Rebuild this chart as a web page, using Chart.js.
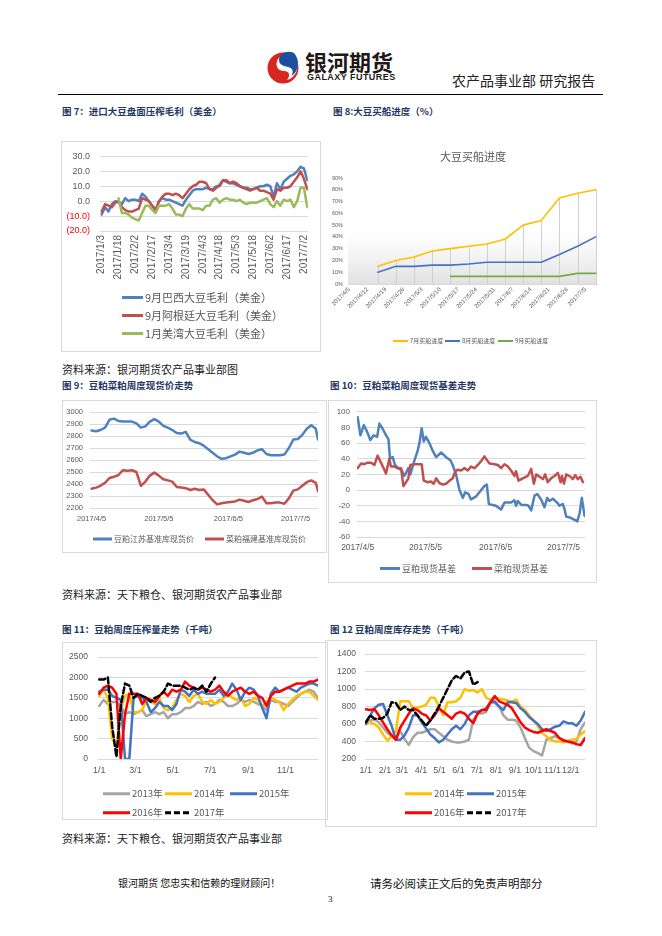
<!DOCTYPE html>
<html><head><meta charset="utf-8">
<script src="https://cdn.jsdelivr.net/npm/chart.js@4.4.1/dist/chart.umd.min.js"></script>
<style>
html,body{margin:0;padding:0;background:#fff;}
body{width:662px;height:936px;position:relative;overflow:hidden;font-family:"Noto Sans CJK SC","Liberation Sans",sans-serif;}
.abs{position:absolute;white-space:nowrap;line-height:1;}
.title{font-size:9.5px;font-weight:700;color:#1f3864;}
.src{font-size:11px;color:#222;}
.box{position:absolute;border:1px solid #d9d9d9;box-sizing:border-box;}
canvas{position:absolute;}
.leg{position:absolute;white-space:nowrap;line-height:1;color:#595959;}
.leg svg{position:absolute;left:0;}
</style></head><body>

<svg class="abs" style="left:267px;top:49px" width="34" height="36" viewBox="0 0 34 36">
  <circle cx="16" cy="19" r="15.5" fill="#d7261e"/>
  <path d="M29 9 C24 3 13 4 10 12 C8 18 12 22 17 22 C22 22 24 26 20 31 C28 29 33 20 29 9 Z" fill="#fff"/>
  <path d="M27 4 C21 1 12 4 12 11 C12 16 17 17 21 18 C26 19 27 23 24 27 C31 24 34 12 27 4 Z" fill="#1d4f9f"/>
</svg>
<div class="abs" style="left:305px;top:50px;font-size:22px;font-weight:700;color:#231815;">银河期货</div>
<div class="abs" style="left:307px;top:72.5px;font-size:9px;font-weight:700;color:#231815;font-family:'Liberation Sans',sans-serif;letter-spacing:0.45px;">GALAXY FUTURES</div>
<div class="abs" style="left:452px;top:73px;font-size:14px;color:#222;">农产品事业部 研究报告</div>
<div class="abs" style="left:58px;top:94px;width:545px;height:1px;background:#000;"></div>

<div class="abs title" style="left:62px;top:107px;">图 7：进口大豆盘面压榨毛利（美金）</div>
<div class="abs title" style="left:333px;top:107px;">图 8:大豆买船进度（%）</div>
<div class="abs src" style="left:62px;top:363.5px;">资料来源：银河期货农产品事业部图</div>
<div class="abs title" style="left:62px;top:381px;">图 9：豆粕菜粕周度现货价走势</div>
<div class="abs title" style="left:330px;top:381px;">图 10：豆粕菜粕周度现货基差走势</div>
<div class="abs src" style="left:62px;top:588.5px;">资料来源：天下粮仓、银河期货农产品事业部</div>
<div class="abs title" style="left:62px;top:625px;">图 11：豆粕周度压榨量走势（千吨）</div>
<div class="abs title" style="left:330px;top:625px;">图 12 豆粕周度库存走势（千吨）</div>
<div class="abs src" style="left:62px;top:832.5px;">资料来源：天下粮仓、银河期货农产品事业部</div>

<div class="abs" style="left:118px;top:878px;font-size:10px;color:#111;">银河期货 您忠实和信赖的理财顾问！</div>
<div class="abs" style="left:370px;top:877.5px;font-size:11.5px;color:#111;">请务必阅读正文后的免责声明部分</div>
<div class="abs" style="left:328px;top:895px;font-size:9px;color:#111;font-family:'Liberation Serif',serif;">3</div>

<div class="box" style="left:61px;top:141px;width:260px;height:211px;"></div>
<div class="box" style="left:62px;top:400px;width:265px;height:153px;"></div>
<div class="box" style="left:328px;top:400px;width:269px;height:183px;"></div>
<div class="box" style="left:62px;top:642px;width:266px;height:178px;"></div>
<div class="box" style="left:325px;top:640px;width:272px;height:187px;"></div>

<script>
// ---------------- DATA ----------------
// Fig 7: crush margin (USD), every 3 days from 2017/1/3
const c7Days = Array.from({length:62}, (_, i) => i * 3);
const c7TickDays = [0,15,30,45,60,75,90,105,120,135,150,165,180];
const c7TickLabels = ['2017/1/3','2017/1/18','2017/2/2','2017/2/17','2017/3/4','2017/3/19','2017/4/3','2017/4/18','2017/5/3','2017/5/18','2017/6/2','2017/6/17','2017/7/2'];
const c7Names = ['9月巴西大豆毛利（美金）','9月阿根廷大豆毛利（美金）','1月美湾大豆毛利（美金）'];
const brazil = [-9,-4,-7,-2,0,-1,-2,2,0,1,1,0,5,3,0,-3,-6,0,2,1,1,0,-1,-2,-3,1,4,7,8,8,8,9,8,8,10,10,14,13,12,12,11,10,9,9,8,8,9,10,10,11,10,3,12,8,13,15,17,18,20,23,22,14];
const argentina = [-7,-2,-3,-4,-1,0,-4,-6,-7,-7,-6,-5,2,1,0,-3,-6,0,3,5,5,4,5,4,2,5,8,10,11,13,13,12,8,7,9,11,14,14,12,13,12,10,9,8,7,8,9,7,7,6,5,1,8,7,9,9,10,13,16,20,15,8];
const usGulf = [null,null,null,null,null,2,-8,-8,-9,-11,-12,-13,-8,-3,-3,-6,-8,-3,-3,-3,-2,-5,-9,-9,-10,-5,-2,-5,-5,-5,-6,-3,-3,1,2,-1,1,2,1,1,0,1,-1,-2,-1,-1,-1,0,1,2,-2,-4,0,-3,1,0,1,-4,0,9,9,-4];

// Fig 8: shipment purchase progress (%), days from 2017/4/5
const c8Days = [11,18,25,32,39,46,53,60,67,74,81,88,95];
const c8TickDays = [0,7,14,21,28,35,42,49,56,63,70,77,84,91];
const c8TickLabels = ['2017/4/5','2017/4/12','2017/4/19','2017/4/26','2017/5/3','2017/5/10','2017/5/17','2017/5/24','2017/5/31','2017/6/7','2017/6/14','2017/6/21','2017/6/28','2017/7/5'];
const c8Names = ['7月买船进度','8月买船进度','9月买船进度'];
const jul = [15,20,23,28,30,32,34,38,50,54,73,77,80];
const aug = [10,15,15,16,16,17,18.5,18.5,18.5,18.5,25,32,40];
const sep = [null,null,null,null,6.5,6.5,6.5,6.5,6.5,6.5,6.5,9,9];

// Fig 9: spot prices, days from 2017/4/5
const c9Days = [0,2,4,6,8,10,12,14,16,18,20,22,24,26,28,30,32,34,36,38,40,42,44,46,48,50,52,54,56,58,60,62,64,66,68,70,72,74,76,78,80,82,84,86,88,90,92,94,96,98,100,101];
const c9TickDays = [0,30,61,91];
const c9TickLabels = ['2017/4/5','2017/5/5','2017/6/5','2017/7/5'];
const c9Names = ['豆粕江苏基准库现货价','菜粕福建基准库现货价'];
const smPrice = [2845,2840,2850,2870,2935,2945,2925,2920,2920,2920,2905,2870,2880,2920,2940,2920,2885,2870,2850,2825,2820,2835,2770,2750,2740,2720,2690,2660,2630,2610,2615,2630,2645,2670,2660,2650,2660,2680,2690,2650,2640,2640,2640,2645,2700,2770,2775,2810,2860,2890,2860,2770];
const rmPrice = [2360,2370,2385,2410,2450,2460,2475,2515,2510,2515,2500,2385,2420,2470,2495,2470,2440,2430,2420,2375,2370,2365,2350,2360,2350,2355,2310,2265,2230,2240,2245,2250,2255,2270,2260,2250,2265,2275,2295,2240,2240,2245,2245,2235,2280,2345,2355,2385,2415,2430,2410,2340];

// Fig 10: spot basis, days from 2017/4/5
const c10TickDays = [0,30,61,91];
const c10TickLabels = ['2017/4/5','2017/5/5','2017/6/5','2017/7/5'];
const c10Names = ['豆粕现货基差','菜粕现货基差'];
const smBasisDays = [0,1.2,2.7,4.1,5.6,7.1,8.6,9.6,11.1,12.5,13.6,14.3,15.5,16.5,18,19.5,20.6,21.4,22.4,23.3,25.1,26.5,27.3,28.3,29.2,30.2,31.7,33.2,34.7,36.9,39.1,41,42,43.5,45,46.5,47.5,49,50.1,52.4,54.6,56,57.1,58,59.7,61.1,63.4,64.9,67.8,69.3,70,70.8,72.3,74.5,75.5,76.7,78.2,79.4,81.1,82.6,83.8,84.8,86.3,88.5,89.2,90.7,91.5,92.2,93.7,95.9,97.1,98.1,99.1,100.3];
const smBasis = [93,70,83,75,64,70,68,85,78,70,65,40,42,32,28,25,18,22,28,20,38,50,60,79,62,68,60,50,42,48,42,38,32,20,0,-10,-3,-5,-12,-8,0,5,7,-18,-19,-20,-25,-16,-16,-13,-20,-14,-19,-19,-20,-26,-7,-5,-12,-22,-10,-14,-11,-17,-20,-18,-25,-34,-35,-38,-40,-30,-10,-33];
const rmBasisDays = [0,1.5,2.9,4.4,5.9,7.4,8.8,10.3,11.8,12.5,14,14.7,16.2,17.7,19.2,20.2,21.4,22.4,23.3,25.1,27.3,28.3,29.2,31,32.4,33.6,34.7,36.1,37.6,39.1,40.6,42,43.2,44.2,45.7,47.2,48.7,50.1,51.6,53.1,54.6,56,57.2,58.3,60.5,62,63.4,64.9,66.4,67.8,69.3,70,71.1,73,75.2,76.7,77.9,78.9,80.4,81.9,82.9,84,85.5,87,88.5,89.7,90.3,91.2,92.2,94.1,95.1,96.2,97.3,98.5,99.6];
const rmBasis = [28,34,33,35,35,32,44,35,26,21,40,30,30,28,28,5,10,15,32,33,33,33,12,10,11,8,15,9,7,8,12,15,24,26,25,28,25,30,28,32,37,43,38,34,33,32,28,33,30,25,18,24,12,15,18,27,8,20,17,14,20,10,15,18,22,10,18,8,20,17,14,19,14,17,10];

// Fig 11 & 12: weekly, week index from 1/1
const weeks = Array.from({length:52}, (_, i) => i);
const yearNames = ['2013年','2014年','2015年','2016年','2017年'];
const c11TickWeeks = [0,8.43,17.14,25.86,34.71,43.43];
const c11TickLabels = ['1/1','3/1','5/1','7/1','9/1','11/1'];
const crush2013 = [1300,1450,1350,1400,1400,1300,1100,1150,1100,1150,1200,1050,1100,1150,1100,1150,1000,1100,1100,1150,1250,1250,1300,1400,1350,1400,1300,1350,1450,1400,1300,1300,1350,1450,1400,1450,1400,1350,1300,1200,1450,1400,1400,1350,1300,1400,1500,1600,1650,1700,1650,1500];
const crush2014 = [1550,1700,1500,500,300,1200,1550,1600,1150,1150,1200,1450,1400,1350,1500,1250,1200,1250,1450,1600,1550,1400,1550,1600,1400,1350,1450,1350,1400,1500,1600,1500,1450,1500,1300,1350,1500,1450,1300,1400,1500,1450,1400,1200,1350,1450,1550,1600,1650,1650,1550,1450];
const crush2015 = [1650,1700,1700,1550,1500,1450,0,0,1500,1550,1500,1400,1150,1250,1400,1300,1300,1200,1350,1700,1650,1550,1700,1600,1650,1600,1600,1600,1700,1550,1650,1850,1700,1450,1650,1750,1700,1550,1250,1000,1600,1750,1650,1700,1750,1700,1650,1750,1800,1850,1850,1800];
const crush2016 = [1600,1750,1800,1750,1600,0,1100,1600,1600,1600,1350,1500,1450,1400,1550,1650,1550,1700,1650,1700,1900,1800,1750,1700,1750,1700,1650,1700,1800,1650,1550,1650,1700,1750,1650,1600,1650,1550,1500,1300,1550,1650,1650,1700,1750,1800,1850,1850,1850,1900,1900,1950];
const crush2017 = [1950,1950,2000,800,50,1300,1850,1800,1500,1600,1550,1500,1400,1500,1550,1650,1850,1800,1800,1800,1750,1700,1750,1700,1800,1650,1850,2000];

const c12TickWeeks = [0,4.43,8.43,12.86,17.14,21.57,25.86,30.29,34.71,39,43.43,47.71];
const c12TickLabels = ['1/1','2/1','3/1','4/1','5/1','6/1','7/1','8/1','9/1','10/1','11/1','12/1'];
const stock2013 = [600,640,650,620,560,500,460,430,520,430,360,450,500,500,520,540,540,500,460,420,400,390,390,400,420,650,720,720,740,850,840,800,700,650,650,640,560,440,330,290,270,240,420,440,460,440,420,400,380,400,540,620];
const stock2014 = [620,620,600,560,480,410,460,520,860,860,860,780,790,800,820,900,900,800,700,850,850,860,900,1000,980,990,960,1000,900,880,900,890,880,870,860,880,800,760,700,640,580,500,460,420,400,400,390,410,420,430,480,520];
const stock2015 = [600,700,780,820,830,700,580,420,420,470,560,700,700,620,550,480,440,390,420,480,540,580,540,600,700,740,740,760,780,850,860,800,760,850,850,840,780,740,680,640,600,540,520,540,570,580,630,610,610,580,640,740];
const stock2016 = [770,760,770,700,620,540,470,420,560,640,720,780,760,720,700,640,700,780,740,700,660,720,740,720,660,610,720,760,760,850,920,860,840,820,780,700,620,560,530,510,500,520,540,520,500,440,410,400,390,370,360,440];
const stock2017 = [620,700,660,660,670,720,850,840,760,800,760,760,700,640,580,640,720,800,900,1000,1100,1150,1120,1190,1200,1050,1080];

// ---------------- HELPERS ----------------
Chart.defaults.animation = false;
Chart.defaults.font.family = "'Liberation Sans','Noto Sans CJK SC',sans-serif";
Chart.defaults.color = '#595959';
Chart.defaults.plugins.legend.display = false;
Chart.defaults.plugins.tooltip.enabled = false;
Chart.defaults.elements.point.radius = 0;
Chart.defaults.elements.line.tension = 0;
Chart.defaults.elements.line.borderJoinStyle = 'round';
Chart.defaults.elements.line.borderCapStyle = 'round';

function pts(xs, ys){ return xs.map((x, i) => ({x: x, y: ys[i] === undefined ? null : ys[i]})); }
function ds(label, xs, ys, color, width, order, dash){
  return {label, data: pts(xs.slice(0, ys.length), ys), borderColor: color, backgroundColor: color,
          borderWidth: width, borderDash: dash || [], fill: false, spanGaps: false, order: order};
}
function place(left, top, w, h){
  const c = document.createElement('canvas');
  c.width = w; c.height = h;
  c.style.left = left + 'px'; c.style.top = top + 'px';
  c.style.width = w + 'px'; c.style.height = h + 'px';
  document.body.appendChild(c);
  return c;
}
function xAxis(min, max, tv, tl, h, font, rot, pad){
  return {type: 'linear', min: min, max: max,
    afterBuildTicks: s => { s.ticks = tv.map(v => ({value: v})); },
    afterFit: s => { s.height = h; },
    grid: {display: false, drawTicks: false}, border: {display: false},
    ticks: {autoSkip: false, minRotation: rot, maxRotation: rot, padding: pad, font: {size: font}, color: '#595959',
            callback: (v, i) => tl[i]}};
}
function yAxis(min, max, step, w, font, pad, cb, color){
  return {min: min, max: max, afterFit: s => { s.width = w; },
    grid: {color: '#d9d9d9', drawTicks: false, lineWidth: 1}, border: {display: false},
    ticks: {stepSize: step, padding: pad, font: {size: font}, color: color || '#595959', callback: cb}};
}
function legend(chart, items, fs, lw, thick){
  chart.data.datasets.forEach((d, i) => {
    const it = items[i]; if (!it) return;
    const div = document.createElement('div');
    div.className = 'leg';
    div.style.left = it[0] + 'px'; div.style.top = (it[1] - fs / 2) + 'px'; div.style.fontSize = fs + 'px';
    const dash = (d.borderDash && d.borderDash.length) ? ' stroke-dasharray="6,3"' : '';
    div.innerHTML = '<svg width="' + lw + '" height="' + fs + '"><line x1="0" y1="' + (fs / 2) + '" x2="' + lw + '" y2="' + (fs / 2) +
      '" stroke="' + d.borderColor + '" stroke-width="' + thick + '"' + dash + '/></svg><span style="margin-left:' + (lw + 2) + 'px">' + d.label + '</span>';
    document.body.appendChild(div);
  });
}

// ---------------- FIG 7 ----------------
const ch7 = new Chart(place(61, 141, 259, 211), {
  type: 'line',
  data: {datasets: [
    ds(c7Names[0], c7Days, brazil, '#4f81bd', 2.5, 3),
    ds(c7Names[1], c7Days, argentina, '#c0504d', 2.5, 2),
    ds(c7Names[2], c7Days, usGulf, '#9bbb59', 2.5, 1)]},
  options: {responsive: false, layout: {padding: {left: 0, right: 4, top: 12, bottom: 61}},
    scales: {
      x: xAxis(-1.5, 183.5, c7TickDays, c7TickLabels, 60, 10, 90, 4),
      y: yAxis(-20, 30, 10, 39, 9, 10,
        v => v < 0 ? '(' + Math.abs(v).toFixed(1) + ')' : v.toFixed(1),
        ctx => (ctx.tick && ctx.tick.value < 0) ? '#ff0000' : '#595959')
    }}
});
legend(ch7, [[122, 297], [122, 315], [122, 333]], 11, 21, 3);

// ---------------- FIG 8 ----------------
const c8Plugin = {
  id: 'c8bg',
  beforeDatasetsDraw(chart){
    const {ctx, chartArea: a} = chart;
    ctx.save();
    const g = ctx.createLinearGradient(0, a.top, 0, a.bottom);
    g.addColorStop(0, 'rgba(235,235,235,0)');
    g.addColorStop(0.5, 'rgba(235,235,235,0)');
    g.addColorStop(1, 'rgba(225,225,225,1)');
    ctx.fillStyle = g;
    ctx.fillRect(a.left, a.top, a.right - a.left, a.bottom - a.top);
    const yscale = chart.scales.y;
    const meta = chart.getDatasetMeta(0);
    ctx.strokeStyle = '#d0d0d0'; ctx.lineWidth = 1;
    meta.data.forEach(p => {
      const x = Math.round(p.x) + 0.5;
      ctx.beginPath(); ctx.moveTo(x, p.y); ctx.lineTo(x, yscale.getPixelForValue(0)); ctx.stroke();
    });
    ctx.restore();
  }
};
const ch8 = new Chart(place(325, 140, 275, 210), {
  type: 'line',
  data: {datasets: [
    ds(c8Names[0], c8Days, jul, '#ffc000', 1.6, 3),
    ds(c8Names[1], c8Days, aug, '#4472c4', 1.6, 2),
    ds(c8Names[2], c8Days, sep, '#70ad47', 1.6, 1)]},
  options: {responsive: false, layout: {padding: {left: 0, right: 3, top: 38, bottom: 26}},
    scales: {
      x: Object.assign(xAxis(-0.5, 95.5, c8TickDays, c8TickLabels, 40, 6, 45, 2), {border: {display: true, color: '#d9d9d9'}}),
      y: Object.assign(yAxis(0, 90, 10, 23, 5.5, 5, v => v + '%'), {grid: {display: false, drawTicks: false}})
    }},
  plugins: [c8Plugin]
});
legend(ch8, [[393, 341], [445, 341], [498, 341]], 6, 15, 2);
(function(){
  const t = document.createElement('div');
  t.className = 'abs'; t.style.cssText += 'left:440px;top:151px;font-size:11px;color:#595959;';
  t.textContent = '大豆买船进度';
  document.body.appendChild(t);
})();

// ---------------- FIG 9 ----------------
const ch9 = new Chart(place(62, 400, 265, 153), {
  type: 'line',
  data: {datasets: [
    ds(c9Names[0], c9Days, smPrice, '#4f81bd', 2.5, 2),
    ds(c9Names[1], c9Days, rmPrice, '#c0504d', 2.5, 1)]},
  options: {responsive: false, layout: {padding: {left: 0, right: 9, top: 12, bottom: 25}},
    scales: {
      x: xAxis(-0.7, 101, c9TickDays, c9TickLabels, 20, 7.5, 0, 6),
      y: yAxis(2200, 3000, 100, 28, 7.5, 7, v => v)
    }}
});
legend(ch9, [[93, 539], [205, 539]], 8, 19, 3);

// ---------------- FIG 10 ----------------
const ch10 = new Chart(place(328, 400, 269, 183), {
  type: 'line',
  data: {datasets: [
    ds(c10Names[0], smBasisDays, smBasis, '#4f81bd', 2.5, 2),
    ds(c10Names[1], rmBasisDays, rmBasis, '#c0504d', 2.5, 1)]},
  options: {responsive: false, layout: {padding: {left: 0, right: 12, top: 11, bottom: 28}},
    scales: {
      x: xAxis(-0.3, 100.5, c10TickDays, c10TickLabels, 18, 8.5, 0, 6),
      y: yAxis(-60, 100, 20, 29, 8, 7, v => v)
    }}
});
legend(ch10, [[380, 568], [472, 568]], 9, 20, 3);

// ---------------- FIG 11 ----------------
const ch11 = new Chart(place(62, 642, 266, 178), {
  type: 'line',
  data: {datasets: [
    ds(yearNames[0], weeks, crush2013, '#a5a5a5', 2.5, 5),
    ds(yearNames[1], weeks, crush2014, '#ffc000', 2.5, 4),
    ds(yearNames[2], weeks, crush2015, '#4472c4', 2.5, 3),
    ds(yearNames[3], weeks, crush2016, '#ff0000', 2.5, 2),
    ds(yearNames[4], weeks, crush2017, '#000000', 2.5, 1, [6, 3])]},
  options: {responsive: false, layout: {padding: {left: 0, right: 10, top: 10, bottom: 43}},
    scales: {
      x: xAxis(-0.3, 51, c11TickWeeks, c11TickLabels, 18, 9, 0, 6),
      y: yAxis(0, 2500, 500, 36, 8.5, 10, v => v)
    }}
});
legend(ch11, [[103, 794], [165, 794], [230, 794], [103, 813], [165, 813]], 9.5, 27, 3);

// ---------------- FIG 12 ----------------
const ch12 = new Chart(place(325, 640, 272, 187), {
  type: 'line',
  data: {datasets: [
    ds('2013年', weeks, stock2013, '#a5a5a5', 2.5, 5),
    ds(yearNames[1], weeks, stock2014, '#ffc000', 2.5, 4),
    ds(yearNames[2], weeks, stock2015, '#4472c4', 2.5, 3),
    ds(yearNames[3], weeks, stock2016, '#ff0000', 2.5, 2),
    ds(yearNames[4], weeks, stock2017, '#000000', 2.5, 1, [6, 3])]},
  options: {responsive: false, layout: {padding: {left: 0, right: 12, top: 12, bottom: 50}},
    scales: {
      x: xAxis(-0.2, 51, c12TickWeeks, c12TickLabels, 18, 9, 0, 6),
      y: yAxis(200, 1400, 200, 40, 8.5, 9, v => v)
    }}
});
legend(ch12, [null, [405, 794], [467, 794], [405, 813], [467, 813]], 9.5, 27, 3);
</script>
</body></html>
